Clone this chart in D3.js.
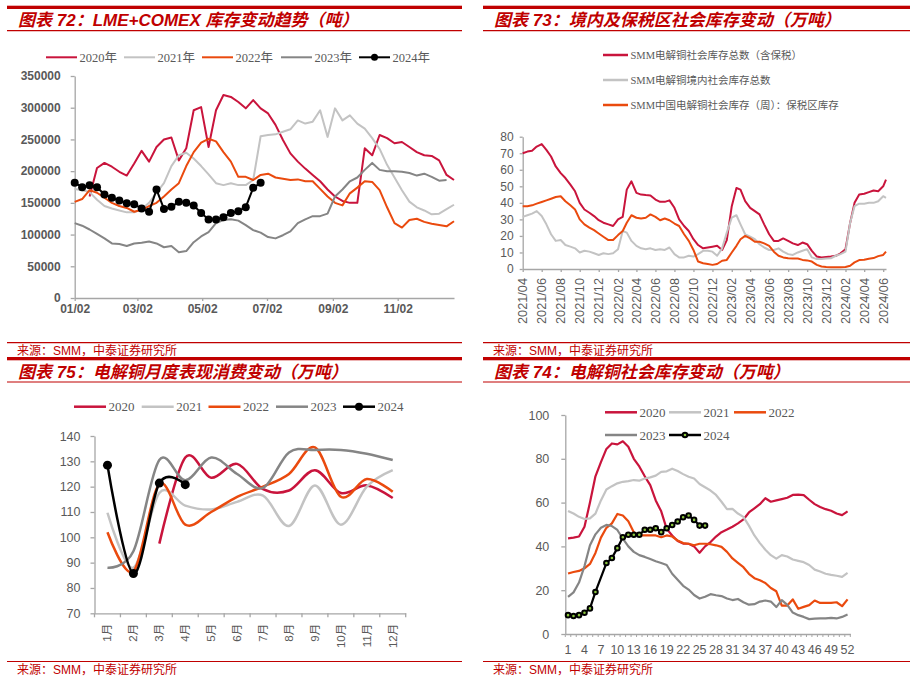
<!DOCTYPE html>
<html>
<head>
<meta charset="utf-8">
<script src="https://cdn.jsdelivr.net/npm/d3@7"></script>
<style>
  body { margin: 0; background: #fff; }
</style>
</head>
<body>
<svg id="page" width="922" height="683" font-family='"Liberation Sans",Arial,"Noto Sans CJK SC",sans-serif'></svg>
<script>
// ---- 图表72 LME+COMEX (weekly, 吨) ----
const lmeWeeks = ["01/02","01/09","01/16","01/23","01/30","02/06","02/13","02/20","02/27","03/06","03/13","03/20","03/27",
  "04/03","04/10","04/17","04/24","05/01","05/08","05/15","05/22","05/29","06/05","06/12","06/19","06/26",
  "07/03","07/10","07/17","07/24","07/31","08/07","08/14","08/21","08/28","09/04","09/11","09/18","09/25",
  "10/02","10/09","10/16","10/23","10/30","11/06","11/13","11/20","11/27","12/04","12/11","12/18","12/25"];
const lmeTicks = ["01/02","03/02","05/02","07/02","09/02","11/02"];
const lmeYTicks = [0,50000,100000,150000,200000,250000,300000,350000];
const lme2020 = [null,null,160000,205000,213000,207000,199000,193000,212000,232000,215000,238000,250000,253000,217000,236000,
  296000,301000,238000,296000,320000,317000,309000,299000,312000,299000,291000,273000,249000,228000,215000,204000,194000,
  184000,171000,160000,153000,150000,150000,236000,225000,257000,252000,244000,246000,238000,230000,225000,224000,217000,194000,186000];
const lme2021 = [172000,170000,167000,155000,145000,141000,138000,135000,135000,140000,150000,166000,181000,208000,225000,229000,
  220000,208000,195000,181000,178000,181000,178000,178000,186000,255000,257000,258000,262000,266000,280000,275000,278000,
  296000,254000,299000,280000,288000,275000,267000,252000,235000,210000,190000,170000,152000,143000,138000,132000,133000,140000,147000];
const lme2022 = [151600,156000,170000,166000,158000,150000,145000,142000,136000,139000,145000,150000,160000,171000,181000,208000,
  230000,245000,251000,247000,230000,215000,191000,191000,186000,194000,196000,190000,188000,186000,187000,184000,184000,
  172000,160000,150000,146000,165000,174000,184000,183000,170000,143000,118000,111000,123000,125000,120000,117000,115000,113000,121000];
const lme2023 = [118000,114000,108000,101000,94000,86000,85000,82000,86000,87000,89000,86000,80000,82000,72000,74000,88000,97000,
  104000,118000,123000,124000,122000,115000,107000,103000,96000,94000,99000,105000,118000,124000,129000,129000,133000,160000,
  171000,184000,190000,202000,213000,202000,200000,200000,199000,197000,193000,196000,191000,185000,186000,null];
const lme2024 = [181600,174700,177900,174700,163200,157900,153700,149500,147900,141000,135800,171000,140500,143700,151600,150000,
  145800,134200,123700,123700,127400,134200,136800,143200,173700,181600];

// ---- 图表73 社会库存 (万吨) ----
const invDates = ("2021-04-01 2021-04-16 2021-05-01 2021-05-16 2021-06-01 2021-06-16 2021-07-01 2021-07-16 2021-08-01 2021-08-16 " +
  "2021-09-01 2021-09-16 2021-10-01 2021-10-16 2021-11-01 2021-11-16 2021-12-01 2021-12-16 " +
  "2022-01-01 2022-01-16 2022-02-01 2022-02-16 2022-03-01 2022-03-16 2022-04-01 2022-04-16 2022-05-01 2022-05-16 2022-06-01 2022-06-16 " +
  "2022-07-01 2022-07-16 2022-08-01 2022-08-16 2022-09-01 2022-09-16 2022-10-01 2022-10-16 2022-11-01 2022-11-16 2022-12-01 2022-12-16 " +
  "2023-01-01 2023-01-16 2023-02-01 2023-02-16 2023-03-01 2023-03-16 2023-04-01 2023-04-16 2023-05-01 2023-05-16 2023-06-01 2023-06-16 " +
  "2023-07-01 2023-07-16 2023-08-01 2023-08-16 2023-09-01 2023-09-16 2023-10-01 2023-10-16 2023-11-01 2023-11-16 2023-12-01 2023-12-16 " +
  "2024-01-01 2024-01-16 2024-02-01 2024-02-16 2024-03-01 2024-03-16 2024-04-01 2024-04-16 2024-05-01 2024-05-16 2024-06-01 2024-06-10").split(" ");
const invTicks = ["2021/04","2021/06","2021/08","2021/10","2021/12","2022/02","2022/04","2022/06","2022/08","2022/10","2022/12",
  "2023/02","2023/04","2023/06","2023/08","2023/10","2023/12","2024/02","2024/04","2024/06"];
const invYTicks = [0,10,20,30,40,50,60,70,80];
const invTotal = [70,71,71.5,74,75.5,72,68,62,58,55, 51,47,40,36,34,32,29.5,28,27,26, 30,31.5,48,53,46,45,44.7,44.5,42,40.6,
  40.6,41.5,37,30,26,23,18,14.5,12.5,13, 13.5,14,11.5,17.5,38,49,48,41,37,35, 33,27,21,17,17,18.5,17,15.5,14.5,16,
  15,11,7.5,7,7.3,7.5,8,9.5,12,28, 40,45,45.5,46.5,47.5,47,50,54];
const invDomestic = [31.5,32.5,33.5,35,32,27,21,17,17.5,14.5, 13.5,12.5,10,11,10.5,9.5,8.5,9.5,9,9.5, 12,23,22,17,14,12.5,12,12.5,11.5,12,
  11.5,13,9,7,7,8,7.5,9,11,11, 10.5,8,12.5,22,31,32.5,27,21,19.5,18, 15,13,11.5,11.5,12.5,10.5,9,8.5,10,11,
  12,7,6,6,6.3,6.5,8,9,10.5,28, 38,39.5,39.5,40,40,41,44,43];
const invBonded = [38,38,38.5,39.5,40.5,41.5,42.5,43.5,44,41, 38.5,36,30,27,25,23.5,21.5,19.5,17.5,17.5, 20.5,23,28,32.5,31,30.6,31,33,31.5,29.5,
  30.5,29.5,27.5,26,21,17,11.5,4.5,3.5,3, 2.5,3,5,5.5,10,14,18,20,18.5,16.5, 16.5,15.5,14,10.5,8,7,6.5,6.3,6.3,5.5,
  5.2,4.5,2.5,1.5,1.2,1,1,1,1.2,2, 4,5.4,5.6,6.2,6.6,7.8,8.5,10.5];

// ---- 图表75 月度表观消费 (万吨) ----
const months = ["1月","2月","3月","4月","5月","6月","7月","8月","9月","10月","11月","12月"];
const consYTicks = [70,80,90,100,110,120,130,140];
const cons2020 = [null,null,97.5,131.5,123.5,129,119,118.5,126.5,117.5,120.5,115.5];
const cons2021 = [109.7,88,117.5,112.5,111,114,116.5,104.5,120.5,105,120,126.5];
const cons2022 = [102,86.5,121,105,110,116,120,125,135.5,116,123,118];
const cons2023 = [88,94.5,130.5,122.5,131.5,125,119.5,133.5,134.5,134.5,133,130.5];
const cons2024 = [128.5,85.7,121.4,120.8];

// ---- 图表74 社会库存 weekly (万吨) ----
const weeks = d3.range(1, 53);
const weekLabels = [1,4,7,10,13,16,19,22,25,28,31,34,37,40,43,46,49,52];
const stockYTicks = [0,20,40,60,80,100];
const stock2020 = [43.7,44,44.5,49,60,72,78.5,84.5,87,86.6, 88,85.5,80,76.5,72,68,61,56,48,45, 42.5,41.3,41.2,40,37.1,40,42,44.5,46.5,47.7,
  49,50.5,52.3,55.5,57.4,59.3,62,60.4,61,61.6, 62.2,63.5,63.6,63.4,61.3,59.3,58,57,56.3,55, 54.3,56];
const stock2021 = [56.2,55,53.5,52.5,52.8,55,61,66,67.5,68.8, 69.5,69.8,70.3,70,71,71.5,72.3,74,74.3,75.5, 74.4,73,71.8,71,68.5,67,65.5,63.5,60.4,57,
  57.1,55,53.5,49.5,45,41.5,38.5,36,34.4,36, 35.4,34,33.4,32.8,31.5,29.4,28.5,27.5,27,26.6, 26.1,27.9];
const stock2022 = [27.6,28.3,28.8,30,32,37,44,48.5,50.5,54.8, 54.1,51.5,46.5,45,45,45,45,44.2,45,44.5, 42.7,41.5,41.2,40.5,41.2,41.2,41,40.5,39.8,37.5,
  34.5,32.5,30.5,27.5,25.5,24.5,23.3,21,19.5,13, 13,15.8,11.5,12.4,13.2,15.3,14.2,14.2,14.2,14.5, 12.7,15.8];
const stock2023 = [17,19,23.5,31,40.5,45.5,48.5,49.8,49.3,47.5, 43.5,40,37.5,36,35.2,34.2,33.2,32.4,31.5,27.5, 24.8,22,20.3,17.8,16.2,17,18.2,17.7,17.3,16.2,
  15.5,16,14.5,13.4,13.6,14.8,15.3,14.8,12.3,15.5, 13.3,9.8,8.6,7.8,6.8,7,7.1,7.1,7.4,7.1, 7.8,8.9];
const stock2024 = [8.6,8.2,8.6,9.7,11.7,19.2,null,32.4,34.7,39.2,44.2,45.3,45.3,45.3,47.6,47.6,48.3,46.5,48.3,49.8,51.4,53.3,54.1,52.1,49.5,49.5];

// ---- styling ----
const RED = '#c00000', AXIS = '#a6a6a6', LABEL = '#595959';
const C2020 = '#c9143c', C2021 = '#c3c3c3', C2022 = '#ea4a0e', C2023 = '#858585', C2024 = '#000000';
const SERIF = '"Liberation Serif","Noto Sans CJK SC",serif';
const SANS = '"Liberation Sans",Arial,"Noto Sans CJK SC",sans-serif';

const svg = d3.select('#page');

function frame(x0, x1, top, title, srcY) {
    svg.append('rect').attr('x', x0).attr('y', top).attr('width', x1 - x0).attr('height', 3.3).attr('fill', RED);
    svg.append('text')
        .attr('x', x0 + 11).attr('y', top + 20.5)
        .attr('fill', RED).attr('font-size', 17).attr('font-weight', 'bold').attr('font-style', 'italic')
        .text(title);
    svg.append('line').attr('x1', x0).attr('x2', x1).attr('y1', top + 25).attr('y2', top + 25)
        .attr('stroke', RED).attr('stroke-width', 1.2);
    svg.append('line').attr('x1', x0).attr('x2', x1).attr('y1', srcY).attr('y2', srcY)
        .attr('stroke', RED).attr('stroke-width', 1.2);
    svg.append('text').attr('x', x0 + 10).attr('y', srcY + 12.5)
        .attr('fill', RED).attr('font-size', 12)
        .text('来源：SMM，中泰证券研究所');
}

function legend(items) {
    items.forEach(it => {
        svg.append('line')
            .attr('x1', it.x).attr('x2', it.x + it.len).attr('y1', it.y).attr('y2', it.y)
            .attr('stroke', it.color).attr('stroke-width', it.w || 2.5);
        if (it.dot) {
            svg.append('circle').attr('cx', it.x + it.len / 2).attr('cy', it.y).attr('r', it.dot.r)
                .attr('fill', it.dot.fill).attr('stroke', '#000').attr('stroke-width', it.dot.sw || 0);
        }
        svg.append('text')
            .attr('x', it.x + it.len + 2.5).attr('y', it.y).attr('dy', '0.35em')
            .attr('fill', LABEL).attr('font-size', it.size).attr('font-family', it.font || SERIF)
            .text(it.label);
    });
}

function styleAxis(g, size, weight) {
    g.attr('font-family', SANS);
    g.select('.domain').attr('stroke', AXIS).attr('stroke-width', 1.3);
    g.selectAll('.tick line').attr('stroke', AXIS).attr('stroke-width', 1.3);
    g.selectAll('.tick text')
        .attr('fill', LABEL).attr('font-size', size).attr('font-family', SANS)
        .attr('font-weight', weight || 'normal');
}

frame(7, 462, 5.7, '图表 72：LME+COMEX 库存变动趋势（吨）', 342.7);
frame(483, 910, 5.7, '图表 73：境内及保税区社会库存变动（万吨）', 342.7);
frame(7, 462, 357, '图表 75：电解铜月度表现消费变动（万吨）', 661.5);
frame(483, 910, 357, '图表 74：电解铜社会库存变动（万吨）', 661.5);

// ================= 图表72 =================
{
    const parseDay = s => d3.timeParse('%Y/%m/%d')('2023/' + s);
    const x = d3.scaleTime()
        .domain([parseDay(lmeWeeks[0]), parseDay(lmeWeeks[lmeWeeks.length - 1])])
        .range([74.7, 454]);
    const y = d3.scaleLinear().domain([0, 350000]).range([298, 76]);

    const yg = svg.append('g').attr('transform', 'translate(74.7,0)')
        .call(d3.axisLeft(y).tickValues(lmeYTicks).tickSize(4).tickSizeOuter(0).tickPadding(10).tickFormat(d3.format('d')));
    styleAxis(yg, 12, 'bold');
    const xg = svg.append('g').attr('transform', 'translate(0,298)')
        .call(d3.axisBottom(x).tickValues(lmeTicks.map(parseDay)).tickSize(3).tickSizeOuter(0).tickPadding(3)
            .tickFormat(d3.timeFormat('%m/%d')));
    styleAxis(xg, 12, 'bold');

    const line = d3.line()
        .defined(d => d != null)
        .x((d, i) => x(parseDay(lmeWeeks[i])))
        .y(d => y(d));

    [[lme2020, C2020], [lme2021, C2021], [lme2022, C2022], [lme2023, C2023], [lme2024, C2024]].forEach(([s, c]) => {
        svg.append('path').attr('d', line(s)).attr('fill', 'none').attr('stroke', c)
            .attr('stroke-width', 2).attr('stroke-linejoin', 'round');
    });
    svg.selectAll('circle.lme24').data(lme2024).enter().append('circle').attr('class', 'lme24')
        .attr('cx', (d, i) => x(parseDay(lmeWeeks[i]))).attr('cy', d => y(d)).attr('r', 4).attr('fill', '#000');

    const ly = 57.3;
    legend([
        { x: 46, y: ly, len: 31, color: C2020, label: '2020年', size: 12.5, w: 2 },
        { x: 124, y: ly, len: 31, color: C2021, label: '2021年', size: 12.5, w: 2 },
        { x: 202, y: ly, len: 31, color: C2022, label: '2022年', size: 12.5, w: 2 },
        { x: 281, y: ly, len: 31, color: C2023, label: '2023年', size: 12.5, w: 2 },
        { x: 359, y: ly, len: 31, color: C2024, label: '2024年', size: 12.5, w: 2, dot: { r: 3.5, fill: '#000' } }
    ]);
}

// ================= 图表73 =================
{
    const parse = d3.timeParse('%Y-%m-%d');
    const dates = invDates.map(parse);
    const x = d3.scaleTime().domain([dates[0], dates[dates.length - 1]]).range([522.7, 886]);
    const y = d3.scaleLinear().domain([0, 80]).range([269, 136.7]);

    const yg = svg.append('g').attr('transform', 'translate(522.7,0)')
        .call(d3.axisLeft(y).tickValues(invYTicks).tickSize(3).tickSizeOuter(0).tickPadding(6));
    styleAxis(yg, 12);
    const xg = svg.append('g').attr('transform', 'translate(0,269)')
        .call(d3.axisBottom(x).tickValues(invTicks.map(d3.timeParse('%Y/%m'))).tickSize(3).tickSizeOuter(0)
            .tickFormat(d3.timeFormat('%Y/%m')));
    styleAxis(xg, 12);
    xg.selectAll('.tick text')
        .attr('transform', 'rotate(-90)').attr('text-anchor', 'end')
        .attr('x', -9).attr('y', 0).attr('dy', '0.35em')
        .attr('textLength', 46).attr('lengthAdjust', 'spacingAndGlyphs');

    const line = d3.line().x((d, i) => x(dates[i])).y(d => y(d));
    [[invTotal, C2020], [invDomestic, C2021], [invBonded, C2022]].forEach(([s, c]) => {
        svg.append('path').attr('d', line(s)).attr('fill', 'none').attr('stroke', c)
            .attr('stroke-width', 2).attr('stroke-linejoin', 'round');
    });

    legend([
        { x: 603, y: 55, len: 25, color: C2020, label: 'SMM电解铜社会库存总数（含保税）', size: 10.5 },
        { x: 603, y: 80, len: 25, color: C2021, label: 'SMM电解铜境内社会库存总数', size: 10.5 },
        { x: 603, y: 105, len: 25, color: C2022, label: 'SMM中国电解铜社会库存（周）：保税区库存', size: 10.5 }
    ]);
}

// ================= 图表75 =================
{
    const x = d3.scaleBand().domain(months).range([94.5, 405.7]);
    const y = d3.scaleLinear().domain([70, 140]).range([613.3, 436]);
    const cx = m => x(m) + x.bandwidth() / 2;

    const yg = svg.append('g').attr('transform', 'translate(94.5,0)')
        .call(d3.axisLeft(y).tickValues(consYTicks).tickSize(4).tickSizeOuter(0).tickPadding(10));
    styleAxis(yg, 12.5);
    const xg = svg.append('g').attr('transform', 'translate(0,613.3)')
        .call(d3.axisBottom(x).tickSize(0).tickSizeOuter(0));
    styleAxis(xg, 11.5);
    xg.selectAll('.tick text')
        .attr('transform', 'rotate(-90)').attr('text-anchor', 'end')
        .attr('x', -10.5).attr('y', 0).attr('dy', '0.35em');
    xg.selectAll('line.bound').data(months.map(m => x(m)).concat([x.range()[1]])).enter()
        .append('line').attr('class', 'bound')
        .attr('x1', d => d).attr('x2', d => d).attr('y1', 0).attr('y2', 4)
        .attr('stroke', AXIS).attr('stroke-width', 1.3);

    const line = d3.line().defined(d => d != null)
        .x((d, i) => cx(months[i])).y(d => y(d)).curve(d3.curveCardinal);
    [[cons2020, C2020], [cons2021, C2021], [cons2022, C2022], [cons2023, C2023], [cons2024, C2024]].forEach(([s, c]) => {
        svg.append('path').attr('d', line(s)).attr('fill', 'none').attr('stroke', c)
            .attr('stroke-width', 2.5).attr('stroke-linejoin', 'round');
    });
    svg.selectAll('circle.cons24').data(cons2024).enter().append('circle').attr('class', 'cons24')
        .attr('cx', (d, i) => cx(months[i])).attr('cy', d => y(d)).attr('r', 4.5).attr('fill', '#000');

    const ly = 406.7;
    legend([
        { x: 74, y: ly, len: 32, color: C2020, label: '2020', size: 13 },
        { x: 141.7, y: ly, len: 32, color: C2021, label: '2021', size: 13 },
        { x: 208.5, y: ly, len: 32, color: C2022, label: '2022', size: 13 },
        { x: 276, y: ly, len: 32, color: C2023, label: '2023', size: 13 },
        { x: 343, y: ly, len: 32, color: C2024, label: '2024', size: 13, dot: { r: 4, fill: '#000' } }
    ]);
}

// ================= 图表74 =================
{
    const x = d3.scaleBand().domain(weeks).range([565.3, 850.3]);
    const y = d3.scaleLinear().domain([0, 100]).range([634, 415]);
    const cx = w => x(w) + x.bandwidth() / 2;

    const yg = svg.append('g').attr('transform', 'translate(565.3,0)')
        .call(d3.axisLeft(y).tickValues(stockYTicks).tickSize(4).tickSizeOuter(0).tickPadding(12));
    styleAxis(yg, 12.5);
    const xg = svg.append('g').attr('transform', 'translate(0,634)')
        .call(d3.axisBottom(x).tickValues(weekLabels).tickSize(0).tickSizeOuter(0).tickPadding(11));
    styleAxis(xg, 12.5);
    xg.selectAll('line.bound').data(weeks.map(w => x(w)).concat([x.range()[1]])).enter()
        .append('line').attr('class', 'bound')
        .attr('x1', d => d).attr('x2', d => d).attr('y1', 0).attr('y2', 3)
        .attr('stroke', AXIS).attr('stroke-width', 1);

    const line = d3.line().x(d => cx(d[0])).y(d => y(d[1]));
    const pairs = s => s.map((v, i) => [weeks[i], v]).filter(d => d[1] != null);
    [[stock2020, C2020], [stock2021, C2021], [stock2022, C2022], [stock2023, C2023], [stock2024, C2024]].forEach(([s, c]) => {
        svg.append('path').attr('d', line(pairs(s))).attr('fill', 'none').attr('stroke', c)
            .attr('stroke-width', 2.2).attr('stroke-linejoin', 'round');
    });
    svg.selectAll('circle.stock24').data(pairs(stock2024)).enter().append('circle').attr('class', 'stock24')
        .attr('cx', d => cx(d[0])).attr('cy', d => y(d[1])).attr('r', 2.3)
        .attr('fill', '#8cc63f').attr('stroke', '#000').attr('stroke-width', 2);

    legend([
        { x: 605, y: 412.3, len: 32, color: C2020, label: '2020', size: 13 },
        { x: 669, y: 412.3, len: 32, color: C2021, label: '2021', size: 13 },
        { x: 734, y: 412.3, len: 32, color: C2022, label: '2022', size: 13 },
        { x: 605, y: 435, len: 32, color: C2023, label: '2023', size: 13 },
        { x: 669, y: 435, len: 32, color: C2024, label: '2024', size: 13, dot: { r: 2.3, fill: '#8cc63f', sw: 2 } }
    ]);
}
</script>
</body>
</html>
